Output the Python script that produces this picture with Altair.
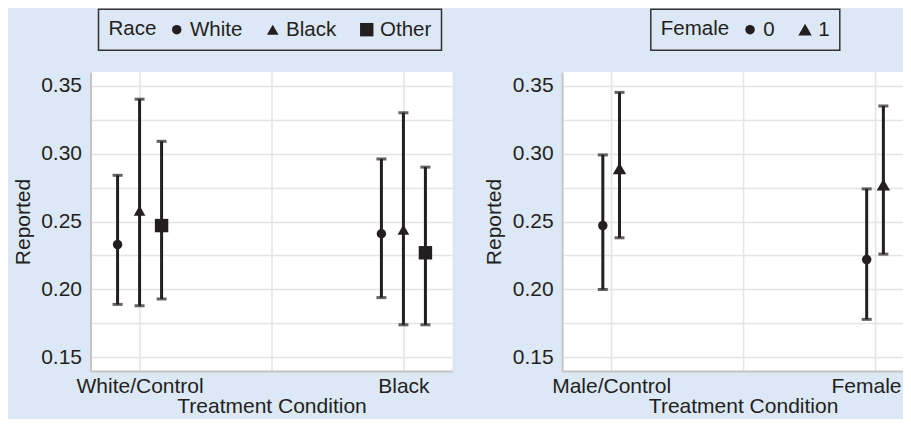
import json
import altair as alt
import pandas as pd

# ---- data ----
race_groups = ["White/Control", "Black"]
race_levels = ["White", "Black", "Other"]
race_est = [[0.233, 0.258, 0.247], [0.241, 0.244, 0.227]]
race_lo = [[0.189, 0.188, 0.193], [0.194, 0.174, 0.174]]
race_hi = [[0.284, 0.340, 0.309], [0.296, 0.330, 0.290]]

gender_groups = ["Male/Control", "Female"]
gender_levels = ["0", "1"]
gender_est = [[0.247, 0.289], [0.222, 0.277]]
gender_lo = [[0.200, 0.238], [0.178, 0.226]]
gender_hi = [[0.299, 0.345], [0.274, 0.335]]

y_labels = [0.15, 0.20, 0.25, 0.30, 0.35]
y_grid = [0.15, 0.175, 0.20, 0.225, 0.25, 0.275, 0.30, 0.325, 0.35]
x_grid = [0, 0.5, 1]

INK = "#231f20"
BG = "#dce8f5"
FONT = "Liberation Sans"


def frame(groups, levels, est, lo, hi):
    rows = []
    for gi, g in enumerate(groups):
        for li, lv in enumerate(levels):
            rows.append(dict(group=g, pos=gi, level=lv,
                             est=est[gi][li], lo=lo[gi][li], hi=hi[gi][li]))
    return pd.DataFrame(rows)


def panel(df, groups, levels, legend_title, shapes, sizes, dodge, legend_x, last_label_shift):
    n = len(levels)
    xenc = alt.X(
        "xpos:Q",
        scale=alt.Scale(domain=[-0.186, 1.186], nice=False, zero=False),
        axis=alt.Axis(values=x_grid,
                      labelExpr=f"datum.value % 1 == 0 ? {json.dumps(groups)}[datum.value] : ''",
                      labelOffset={"expr": f"datum.value == 1 ? {last_label_shift} : 0"},
                      title="Treatment Condition", labelPadding=4, titlePadding=-1),
    )
    yscale = alt.Scale(domain=[0.14, 0.36], nice=False, zero=False)
    yaxis = alt.Axis(values=y_grid, labelOverlap=False,
                     labelExpr=f"indexof({json.dumps(y_labels)}, datum.value) >= 0 ? format(datum.value, '.2f') : ''",
                     title="Reported", labelPadding=9, titlePadding=7.5)
    leg = alt.Legend(orient="none", legendX=legend_x, legendY=-62.7, direction="horizontal",
                     titleOrient="left", padding=10, strokeColor="#333333", fillColor=BG,
                     titlePadding=10, columnPadding=20, labelOffset=3,
                     labelFontSize=20.5, titleFontSize=20.5, titleFontWeight="normal",
                     labelColor=INK, titleColor=INK, symbolFillColor=INK, symbolStrokeColor=INK)
    base = alt.Chart(df).transform_calculate(
        xpos=f"datum.pos + (indexof({json.dumps(levels)}, datum.level) - {(n - 1) / 2}) * {dodge}"
    ).encode(x=xenc)
    bars = base.mark_rule(strokeWidth=3, color=INK).encode(
        y=alt.Y("lo:Q", scale=yscale, axis=yaxis), y2="hi:Q")
    cap_lo = base.mark_tick(orient="horizontal", size=10, thickness=3, color=INK).encode(
        y=alt.Y("lo:Q", scale=yscale, axis=yaxis))
    cap_hi = base.mark_tick(orient="horizontal", size=10, thickness=3, color=INK).encode(
        y=alt.Y("hi:Q", scale=yscale, axis=yaxis))
    pts = base.mark_point(filled=True, opacity=1, color=INK).encode(
        y=alt.Y("est:Q", scale=yscale, axis=yaxis),
        shape=alt.Shape("level:N", scale=alt.Scale(domain=levels, range=shapes),
                        title=legend_title, legend=leg),
        size=alt.Size("level:N", scale=alt.Scale(domain=levels, range=sizes),
                      title=legend_title, legend=leg),
    )
    return alt.layer(bars, cap_lo, cap_hi, pts).properties(width=362, height=299)


left = panel(frame(race_groups, race_levels, race_est, race_lo, race_hi),
             race_groups, race_levels, "Race",
             ["circle", "triangle-up", "square"], [90, 180, 115], 0.0834, 8, 0)
right = panel(frame(gender_groups, gender_levels, gender_est, gender_lo, gender_hi),
              gender_groups, gender_levels, "Female",
              ["circle", "triangle-up"], [90, 180], 0.0633, 88.7, -9)

chart = (
    alt.hconcat(left, right, spacing=30.6)
    .resolve_scale(shape="independent", size="independent", x="independent", y="independent")
    .properties(background=BG, padding={"left": 3.5, "top": 0, "right": -21.5, "bottom": 3})
    .configure(font=FONT)
    .configure_view(fill="white", strokeWidth=0)
    .configure_axis(domainColor="#c4c4c4", domainWidth=2, gridColor="#e4e4e4", gridWidth=1.5,
                    ticks=False, labelFontSize=21, titleFontSize=21, titleFontWeight="normal",
                    labelColor=INK, titleColor=INK, labelFont=FONT, titleFont=FONT)
    .configure_legend(strokeWidth=1.5, labelFont=FONT, titleFont=FONT)
)

chart.save("out.html", embed_options={"renderer": "svg", "actions": False})
